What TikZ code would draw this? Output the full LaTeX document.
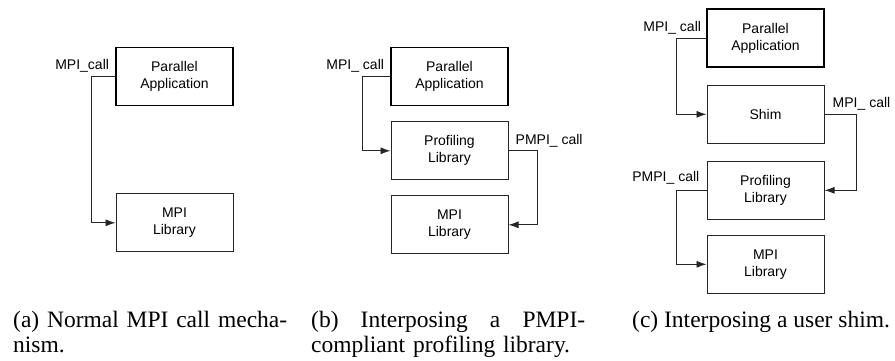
\documentclass[tikz,border=0pt]{standalone}
\usepackage{fontspec}
\setmainfont{Liberation Serif}
\newfontfamily\diagfont{Liberation Sans}
\usetikzlibrary{positioning, arrows.meta}
\tikzset{>={Latex[length=10pt, width=7pt]},
  blk/.style={draw=black!85, line width=1pt, minimum width=117pt, minimum height=58pt,
    align=center, font=\diagfont\fontsize{14}{17}\selectfont},
  top/.style={blk, draw=black, line width=1.6pt},
  lbl/.style={font=\diagfont\fontsize{14}{17}\selectfont, inner sep=2pt},
  call/.style={->, draw=black!85, line width=0.9pt},
  capt/.style={anchor=north west, inner sep=0pt, align=left, text width=274pt,
    font=\fontsize{23.5}{24.5}\selectfont}}

\begin{document}
\begin{tikzpicture}[x=1pt, y=-1pt]
    \useasboundingbox (0,0) rectangle (895,360);

    \node[top] (pa1) at (174.5,76.5) {Parallel\\Application};
    \node[blk, below=87pt of pa1] (mpi1) {MPI\\Library};
    \draw[call] (pa1.west) -- ++(-24,0) |- (mpi1.west);
    \node[lbl, above left=2pt and 4pt of pa1.west] (c1) {MPI\_call};

    \node[top] (pa2) at (449.5,76.5) {Parallel\\Application};
    \node[blk, below=15pt of pa2] (prof2) {Profiling\\Library};
    \node[blk, below=15pt of prof2] (mpi2) {MPI\\Library};
    \draw[call] (pa2.west) -- ++(-28,0) |- (prof2.west);
    \draw[call] (prof2.east) -- ++(29,0) |- (mpi2.east);
    \node[lbl, above left=2pt and 4pt of pa2.west] (c2) {MPI\_ call};
    \node[lbl, above right=1pt and 5pt of prof2.east] (p2) {PMPI\_ call};

    \node[top] (pa3) at (765.5,38) {Parallel\\Application};
    \node[blk, below=17pt of pa3] (shim3) {Shim};
    \node[blk, below=17pt of shim3] (prof3) {Profiling\\Library};
    \node[blk, below=15pt of prof3] (mpi3) {MPI\\Library};
    \draw[call] (pa3.west) -- ++(-30,0) |- (shim3.west);
    \draw[call] (shim3.east) -- ++(32,0) |- (prof3.east);
    \draw[call] (prof3.west) -- ++(-30,0) |- (mpi3.west);
    \node[lbl, above left=2pt and 3pt of pa3.west] (c3) {MPI\_ call};
    \node[lbl, above right=2pt and 6pt of shim3.east] (c4) {MPI\_ call};
    \node[lbl, above left=4pt and 5pt of prof3.west] (p3) {PMPI\_ call};

    \node[capt] (capa) at (13,311) {(a)\hfill Normal\hfill MPI\hfill call\hfill mecha-\\nism.};
    \node[capt] (capb) at (311,311) {(b)\hfill Interposing\hfill a\hfill PMPI-\\compliant profiling library.};
    \node[capt, text width=] (capc) at (632,311) {(c) Interposing a user shim.};
\end{tikzpicture}
\end{document}
